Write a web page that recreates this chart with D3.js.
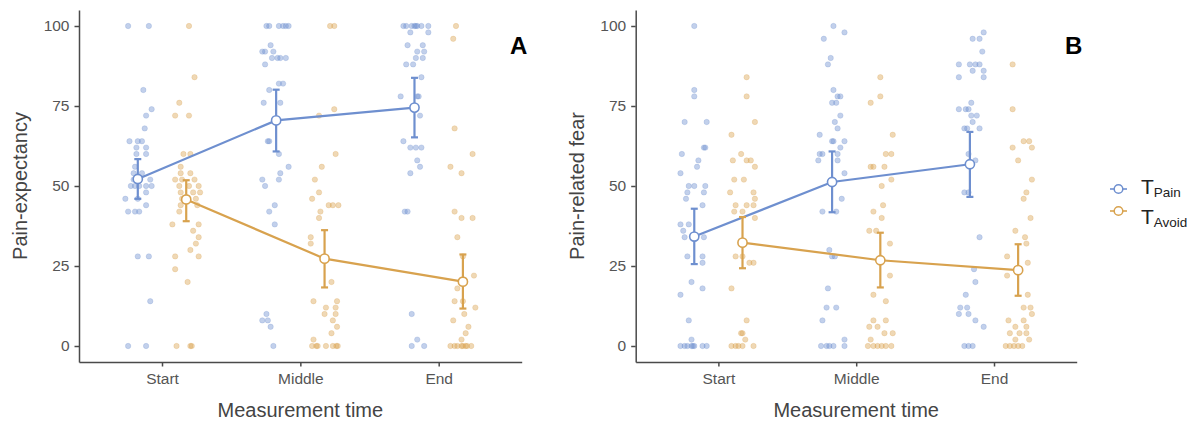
<!DOCTYPE html>
<html>
<head>
<meta charset="utf-8">
<script src="https://cdn.jsdelivr.net/npm/d3@7/dist/d3.min.js"></script>
<style>
  html, body { margin: 0; padding: 0; background: #fff; }
  svg { display: block; font-family: "Liberation Sans", Arial, sans-serif; }
</style>
</head>
<body>
<svg id="chart" width="1198" height="423"></svg>
<script>
// Measurement occasions and conditions
const times = ["Start", "Middle", "End"];
const conditions = ["Pain", "Avoid"];
const yTicks = [0, 25, 50, 75, 100];

// Individual ratings: [value, horizontal jitter in category units]
const expectancyPainStart = [[100,-0.07],[100,0.08],[80,0.04],[74,0.10],[72,0.06],[68,0.05],[64,-0.06],[64,0.00],[64,0.03],[62,-0.01],[62,0.06],[60,-0.01],[60,0.06],[56,-0.02],[54,-0.03],[54,0.03],[52,-0.03],[52,0.09],[50,-0.05],[50,-0.02],[50,0.01],[50,0.06],[50,0.10],[48,0.06],[46,-0.09],[46,0.00],[44,0.06],[42,-0.07],[42,-0.02],[42,0.01],[28,0.00],[28,0.08],[14,0.09],[0,-0.07],[0,0.06]];
const expectancyPainMiddle = [[100,-0.07],[100,-0.05],[100,0.02],[100,0.05],[100,0.07],[100,0.09],[94,-0.04],[92,-0.10],[92,-0.08],[92,-0.02],[90,-0.03],[90,0.01],[90,0.03],[90,0.07],[88,-0.08],[82,0.02],[82,0.05],[80,-0.05],[76,-0.09],[76,0.03],[64,-0.06],[64,-0.05],[60,0.02],[56,0.09],[54,0.03],[52,0.02],[52,-0.10],[50,-0.08],[44,-0.01],[42,-0.05],[38,-0.01],[10,-0.07],[8,-0.10],[8,-0.06],[6,-0.04],[0,-0.02]];
const expectancyPainEnd = [[100,-0.08],[100,-0.06],[100,-0.02],[100,0.00],[100,0.01],[100,0.02],[100,0.05],[100,0.10],[98,-0.03],[98,0.10],[94,-0.05],[94,0.06],[92,0.02],[92,0.07],[90,0.01],[90,0.06],[88,-0.06],[88,-0.01],[84,0.05],[78,-0.10],[78,0.02],[78,0.03],[72,0.04],[64,-0.08],[62,-0.03],[62,0.01],[62,0.05],[58,0.02],[56,0.04],[54,-0.03],[42,-0.07],[42,-0.05],[10,-0.02],[2,0.02],[0,-0.02],[0,0.07]];
const expectancyAvoidStart = [[100,0.02],[84,0.06],[76,-0.05],[72,-0.08],[72,0.02],[60,-0.02],[60,0.03],[56,-0.04],[54,-0.04],[54,0.03],[52,-0.08],[52,-0.03],[52,0.06],[50,-0.05],[50,0.02],[50,0.09],[48,-0.04],[48,0.05],[48,0.10],[46,-0.03],[46,0.07],[44,-0.04],[44,0.08],[42,-0.05],[38,-0.10],[38,0.09],[36,0.05],[34,0.09],[32,0.07],[30,0.03],[28,-0.08],[28,0.09],[24,-0.08],[20,0.01],[0,-0.07],[0,0.03],[0,0.04]];
const expectancyAvoidMiddle = [[100,0.04],[100,0.07],[74,0.07],[72,-0.04],[60,0.08],[56,-0.02],[52,-0.07],[48,-0.04],[46,-0.09],[44,0.03],[44,0.06],[44,0.10],[42,-0.03],[40,-0.04],[34,-0.10],[32,-0.10],[20,0.05],[14,-0.08],[14,0.09],[12,0.01],[12,0.08],[10,0.00],[10,0.08],[8,0.06],[6,0.09],[4,0.05],[2,-0.08],[0,-0.09],[0,-0.06],[0,-0.05],[0,0.01],[0,0.06],[0,0.085],[0,0.095]];
const expectancyAvoidEnd = [[100,-0.05],[96,-0.07],[68,-0.06],[60,0.07],[56,-0.09],[54,-0.01],[42,-0.06],[40,-0.01],[40,0.07],[34,-0.04],[28,0.00],[22,0.08],[18,-0.04],[14,-0.06],[14,0.00],[12,0.09],[10,0.01],[8,-0.07],[6,0.04],[4,0.02],[2,-0.01],[0,-0.09],[0,-0.06],[0,-0.04],[0,-0.01],[0,0.00],[0,0.02],[0,0.03],[0,0.06]];

const fearPainStart = [[100,0.00],[80,0.00],[78,0.00],[70,-0.07],[70,0.09],[62,0.07],[62,0.08],[60,-0.09],[58,0.03],[56,0.02],[54,-0.10],[50,-0.04],[50,0.00],[50,0.08],[48,-0.05],[48,0.07],[46,-0.06],[44,0.06],[38,-0.10],[38,-0.04],[36,-0.08],[34,-0.07],[34,0.07],[28,-0.05],[28,0.06],[26,0.06],[20,-0.02],[18,0.06],[16,-0.10],[8,-0.04],[2,-0.02],[0,-0.10],[0,-0.07],[0,-0.05],[0,-0.02],[0,-0.01],[0,0.00],[0,0.06],[0,0.09]];
const fearPainMiddle = [[100,0.01],[98,0.09],[96,-0.06],[90,-0.01],[88,-0.03],[80,0.01],[78,0.04],[78,0.06],[76,0.00],[76,0.03],[72,0.06],[70,0.02],[68,0.04],[66,-0.09],[64,0.00],[64,0.01],[64,0.09],[62,0.06],[60,-0.09],[60,-0.07],[60,0.04],[58,-0.10],[58,0.04],[54,0.09],[46,0.07],[42,-0.07],[42,0.03],[30,-0.02],[28,0.00],[28,0.02],[18,-0.03],[12,-0.04],[12,0.03],[8,-0.07],[2,0.09],[0,-0.08],[0,-0.04],[0,-0.02],[0,0.01],[0,0.09]];
const fearPainEnd = [[98,0.10],[96,0.02],[96,0.07],[92,0.09],[88,-0.08],[88,0.00],[88,0.04],[88,0.07],[86,0.02],[86,0.10],[84,-0.08],[84,0.10],[76,0.01],[74,-0.08],[74,-0.03],[74,-0.01],[72,0.01],[72,0.05],[70,0.02],[68,-0.04],[68,-0.02],[68,0.07],[60,-0.01],[58,0.04],[48,-0.04],[48,-0.01],[34,0.07],[24,0.03],[20,0.04],[16,-0.03],[12,-0.07],[12,-0.02],[10,-0.08],[10,-0.01],[8,0.04],[6,0.10],[0,-0.04],[0,-0.01],[0,0.02]];
const fearAvoidStart = [[84,0.03],[78,0.03],[70,0.09],[66,-0.08],[60,-0.01],[58,-0.07],[58,0.03],[58,0.06],[56,0.09],[52,-0.06],[52,0.01],[48,-0.09],[48,0.08],[46,0.09],[44,-0.05],[44,0.03],[44,0.08],[42,-0.06],[42,0.00],[40,0.09],[28,-0.05],[28,0.00],[26,0.05],[26,0.08],[18,-0.08],[8,0.03],[4,-0.01],[4,0.00],[2,0.02],[0,-0.08],[0,-0.05],[0,-0.03],[0,0.00],[0,0.08]];
const fearAvoidMiddle = [[84,0.00],[78,0.00],[76,-0.07],[66,0.09],[60,0.04],[60,0.08],[56,-0.07],[56,-0.05],[56,0.03],[52,0.08],[50,0.01],[44,0.02],[42,-0.05],[40,0.01],[36,-0.08],[36,-0.03],[32,0.07],[22,0.07],[16,-0.05],[14,0.04],[8,-0.05],[8,0.04],[6,-0.08],[6,-0.02],[4,0.03],[4,0.09],[2,-0.07],[0,-0.09],[0,-0.05],[0,-0.02],[0,0.01],[0,0.04],[0,0.08]];
const fearAvoidEnd = [[88,-0.04],[74,-0.04],[64,0.04],[64,0.08],[62,-0.04],[62,0.10],[58,0.00],[52,0.10],[48,0.06],[46,0.04],[40,0.09],[36,-0.02],[34,0.05],[32,0.06],[28,-0.08],[26,0.07],[22,-0.08],[16,0.07],[12,0.04],[12,0.09],[10,0.10],[8,-0.07],[8,0.04],[6,-0.02],[6,0.06],[4,-0.06],[4,0.01],[4,0.06],[2,-0.02],[2,0.08],[0,-0.09],[0,-0.06],[0,-0.03],[0,0.00],[0,0.03]];

// Condition means with 95% CI bounds per measurement time
const expectancyPainMean = [52.2, 70.5, 74.5];
const expectancyPainLow  = [46.0, 60.8, 65.2];
const expectancyPainHigh = [58.4, 80.1, 83.8];
const expectancyAvoidMean = [45.8, 27.3, 20.1];
const expectancyAvoidLow  = [39.0, 18.3, 11.7];
const expectancyAvoidHigh = [51.8, 36.2, 28.6];

const fearPainMean = [34.2, 51.25, 56.8];
const fearPainLow  = [25.6, 41.8, 46.6];
const fearPainHigh = [42.9, 60.8, 66.9];
const fearAvoidMean = [32.3, 26.8, 23.7];
const fearAvoidLow  = [24.3, 18.3, 15.7];
const fearAvoidHigh = [40.3, 35.4, 31.8];

const colors = { Pain: "#6e8fcf", Avoid: "#d8a24e" };
const dodge = { Pain: -0.175, Avoid: 0.175 };

const panels = [
  {
    tag: "A", title: "Pain-expectancy", left: 79, right: 521.7,
    points: { Pain: [expectancyPainStart, expectancyPainMiddle, expectancyPainEnd],
              Avoid: [expectancyAvoidStart, expectancyAvoidMiddle, expectancyAvoidEnd] },
    mean: { Pain: expectancyPainMean, Avoid: expectancyAvoidMean },
    low:  { Pain: expectancyPainLow,  Avoid: expectancyAvoidLow },
    high: { Pain: expectancyPainHigh, Avoid: expectancyAvoidHigh }
  },
  {
    tag: "B", title: "Pain-related fear", left: 635.7, right: 1076.7,
    points: { Pain: [fearPainStart, fearPainMiddle, fearPainEnd],
              Avoid: [fearAvoidStart, fearAvoidMiddle, fearAvoidEnd] },
    mean: { Pain: fearPainMean, Avoid: fearAvoidMean },
    low:  { Pain: fearPainLow,  Avoid: fearAvoidLow },
    high: { Pain: fearPainHigh, Avoid: fearAvoidHigh }
  }
];

const svg = d3.select("#chart");
const plotTop = 10, plotBottom = 362;
const axisColor = "#4a4a4a";

panels.forEach(p => {
  const x = d3.scalePoint().domain(times).range([p.left, p.right]).padding(0.6);
  const y = d3.scaleLinear().domain([-5, 105]).range([plotBottom, plotTop]);
  const step = x.step();
  const g = svg.append("g");
  const px = (t, c, j) => x(t) + (dodge[c] + (j || 0)) * step;

  // raw ratings
  conditions.forEach(c => {
    const rows = [];
    p.points[c].forEach((arr, i) => arr.forEach(d => rows.push({ t: times[i], v: d[0], j: d[1] })));
    g.append("g").selectAll("circle").data(rows).join("circle")
      .attr("cx", d => px(d.t, c, d.j))
      .attr("cy", d => y(d.v))
      .attr("r", 2.7)
      .attr("fill", colors[c]).attr("fill-opacity", 0.42)
      .attr("stroke", colors[c]).attr("stroke-opacity", 0.35).attr("stroke-width", 0.7);
  });

  // mean trajectories, CI bars and mean markers
  conditions.forEach(c => {
    const summary = times.map((t, i) => ({ t, m: p.mean[c][i], lo: p.low[c][i], hi: p.high[c][i] }));
    const line = d3.line().x(d => px(d.t, c)).y(d => y(d.m));
    g.append("path").datum(summary).attr("d", line)
      .attr("fill", "none").attr("stroke", colors[c]).attr("stroke-width", 2.2);
    const eb = g.append("g").attr("stroke", colors[c]).attr("stroke-width", 2.2).attr("fill", "none");
    eb.selectAll("line.v").data(summary).join("line").attr("class", "v")
      .attr("x1", d => px(d.t, c)).attr("x2", d => px(d.t, c))
      .attr("y1", d => y(d.lo)).attr("y2", d => y(d.hi));
    ["lo", "hi"].forEach(k => {
      eb.selectAll("line." + k).data(summary).join("line").attr("class", k)
        .attr("x1", d => px(d.t, c) - 3.5).attr("x2", d => px(d.t, c) + 3.5)
        .attr("y1", d => y(d[k])).attr("y2", d => y(d[k]));
    });
    g.append("g").selectAll("circle").data(summary).join("circle")
      .attr("cx", d => px(d.t, c)).attr("cy", d => y(d.m)).attr("r", 4.6)
      .attr("fill", "#fff").attr("stroke", colors[c]).attr("stroke-width", 1.6);
  });

  // axes
  const yAxis = g.append("g").attr("transform", `translate(${p.left},0)`)
    .call(d3.axisLeft(y).tickValues(yTicks).tickSize(4.5).tickSizeOuter(0).tickPadding(5));
  const xAxis = g.append("g").attr("transform", `translate(0,${plotBottom})`)
    .call(d3.axisBottom(x).tickSize(4.5).tickSizeOuter(0).tickPadding(6));
  [yAxis, xAxis].forEach(a => {
    a.select(".domain").attr("stroke", axisColor).attr("stroke-width", 1.5);
    a.selectAll(".tick line").attr("stroke", axisColor).attr("stroke-width", 1.5);
    a.selectAll(".tick text").attr("fill", "#555").style("font-size", "15.5px")
      .style("font-family", "'Liberation Sans', Arial, sans-serif");
  });

  // axis titles
  g.append("text")
    .attr("transform", `translate(${p.left - 52},${(plotTop + plotBottom) / 2}) rotate(-90)`)
    .attr("text-anchor", "middle").attr("fill", "#444").style("font-size", "20px")
    .text(p.title);
  g.append("text")
    .attr("x", (p.left + p.right) / 2).attr("y", 417)
    .attr("text-anchor", "middle").attr("fill", "#444").style("font-size", "20px")
    .text("Measurement time");

  // panel tag
  g.append("text")
    .attr("x", p.right - 3).attr("y", 54)
    .attr("text-anchor", "middle").attr("fill", "#000")
    .style("font-size", "24px").style("font-weight", "bold")
    .text(p.tag);
});

// legend
const legend = svg.append("g");
const legendRows = [{ c: "Pain", y: 189, ty: 194 }, { c: "Avoid", y: 211, ty: 224 }];
legendRows.forEach(r => {
  legend.append("line").attr("x1", 1110).attr("x2", 1127).attr("y1", r.y).attr("y2", r.y)
    .attr("stroke", colors[r.c]).attr("stroke-width", 2).attr("stroke-opacity", 0.8);
  legend.append("circle").attr("cx", 1118.5).attr("cy", r.y).attr("r", 4.3)
    .attr("fill", "#fff").attr("stroke", colors[r.c]).attr("stroke-width", 1.5);
  const t = legend.append("text").attr("x", 1141).attr("y", r.ty).attr("fill", "#222")
    .style("font-size", "21px");
  t.append("tspan").text("T");
  t.append("tspan").attr("dy", 3).style("font-size", "13.5px").text(r.c);
});
</script>
</body>
</html>
